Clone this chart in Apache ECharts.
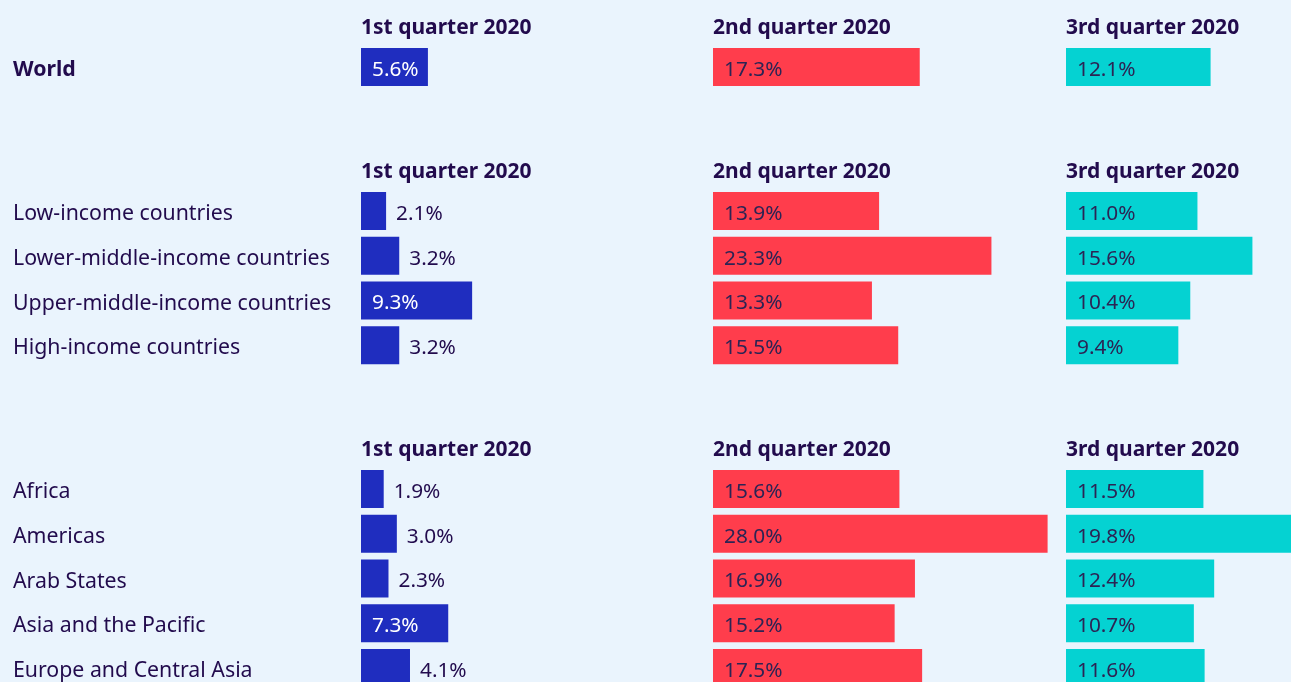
<!DOCTYPE html>
<html>
<head>
<meta charset="utf-8">
<script src="https://cdn.jsdelivr.net/npm/echarts@6/dist/echarts.min.js"></script>
<style>
  html, body { margin: 0; padding: 0; background: #eaf4fd; overflow: hidden; }
  /* a bit taller than the window: the last row is cut off at the bottom */
  #chart { width: 1291px; height: 700px; }
</style>
</head>
<body>
<div id="chart"></div>
<script>
  // column headers
  const quarters = ["1st quarter 2020", "2nd quarter 2020", "3rd quarter 2020"];

  // row groups
  const worldRows = ["World"];
  const incomeRows = [
    "Low-income countries",
    "Lower-middle-income countries",
    "Upper-middle-income countries",
    "High-income countries",
  ];
  const regionRows = [
    "Africa",
    "Americas",
    "Arab States",
    "Asia and the Pacific",
    "Europe and Central Asia",
  ];

  // values (%), one array per quarter per group
  const worldQ1 = [5.6];
  const worldQ2 = [17.3];
  const worldQ3 = [12.1];
  const incomeQ1 = [2.1, 3.2, 9.3, 3.2];
  const incomeQ2 = [13.9, 23.3, 13.3, 15.5];
  const incomeQ3 = [11.0, 15.6, 10.4, 9.4];
  const regionQ1 = [1.9, 3.0, 2.3, 7.3, 4.1];
  const regionQ2 = [15.6, 28.0, 16.9, 15.2, 17.5];
  const regionQ3 = [11.5, 19.8, 12.4, 10.7, 11.6];

  const colors = ["#1f2dbf", "#ff3d4c", "#05d2d2"];
  const textColor = "#220b4d";
  const font = "Noto Sans";
  const slot = 44.75;
  const pxPerPct = 11.95;
  const colLeft = [361, 713, 1066];
  const colWidth = [358, 358, 1291 - 1066]; // last column runs off the page
  const groupTop = [48, 192, 470]; // top edge of first bar

  const groups = [
    { rows: worldRows, vals: [worldQ1, worldQ2, worldQ3], bold: true },
    { rows: incomeRows, vals: [incomeQ1, incomeQ2, incomeQ3], bold: false },
    { rows: regionRows, vals: [regionQ1, regionQ2, regionQ3], bold: false },
  ];

  const grid = [], xAxis = [], yAxis = [], series = [], title = [];
  let idx = 0;
  groups.forEach((g, gi) => {
    const top = groupTop[gi] - (slot - 38) / 2;
    quarters.forEach((q, qi) => {
      grid.push({
        left: colLeft[qi],
        top: top,
        width: colWidth[qi],
        height: g.rows.length * slot,
      });
      xAxis.push({
        gridIndex: idx,
        type: "value",
        min: 0,
        max: colWidth[qi] / pxPerPct,
        show: false,
      });
      yAxis.push({
        gridIndex: idx,
        type: "category",
        inverse: true,
        data: g.rows,
        show: qi === 0,
        axisLine: { show: false },
        axisTick: { show: false },
        splitLine: { show: false },
        axisLabel: {
          show: qi === 0,
          align: "left",
          margin: colLeft[0] - 13,
          // rich token so the text can sit a few px lower, as in the source
          formatter: (v) => "{t|" + v + "}",
          rich: {
            t: {
              padding: [6, 0, 0, 0],
              fontFamily: font,
              fontSize: 21.3,
              fontWeight: g.bold ? "bold" : "normal",
              color: textColor,
            },
          },
        },
      });
      series.push({
        type: "bar",
        xAxisIndex: idx,
        yAxisIndex: idx,
        barWidth: 38,
        animation: false,
        itemStyle: { color: colors[qi] },
        data: g.vals[qi].map((v) => {
          const inside = v >= 5;
          return {
            value: v,
            label: {
              show: true,
              position: inside ? "insideLeft" : "right",
              distance: inside ? 11 : 10,
              offset: [0, 3],
              formatter: v.toFixed(1) + "%",
              fontFamily: font,
              fontSize: 20.8,
              color: qi === 0 ? (inside ? "#ffffff" : textColor) : "#2c2454",
            },
          };
        }),
      });
      title.push({
        text: q,
        left: colLeft[qi],
        top: groupTop[gi] - 30,
        padding: 0,
        textStyle: { fontFamily: font, fontSize: 21, fontWeight: "bold", color: textColor },
      });
      idx++;
    });
  });

  const myChart = echarts.init(document.getElementById("chart"));
  myChart.setOption({
    backgroundColor: "#eaf4fd",
    title: title,
    grid: grid,
    xAxis: xAxis,
    yAxis: yAxis,
    series: series,
  });
  window.addEventListener("resize", () => {
    myChart.resize();
  });
</script>
</body>
</html>
